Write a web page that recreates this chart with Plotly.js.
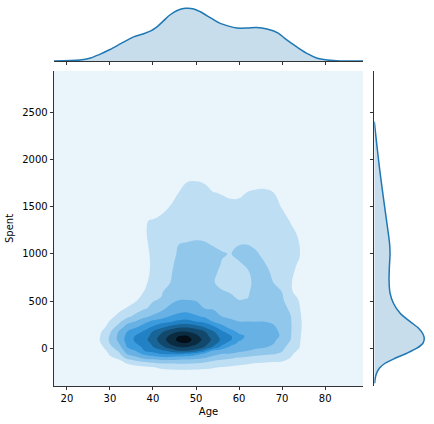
<!DOCTYPE html>
<html><head><meta charset="utf-8">
<script src="https://cdn.plot.ly/plotly-3.0.1.min.js"></script>
<style>html,body{margin:0;padding:0;background:#fff;}#chart{width:434px;height:424px;}</style>
</head><body><div id="chart"></div>
<script>
// Joint density grid (contour level units, 1..9 = bands)
const gridAge = [17, 22, 26, 28, 30, 32, 34, 36, 38, 40, 42, 44, 46, 48, 50, 52, 54, 56, 58, 60, 62, 64, 66, 68, 70, 72, 74, 77, 80, 88.8];
const gridSpent = [-400, -250, -200, -150, -100, -60, -25, 10, 50, 90, 130, 175, 225, 280, 340, 420, 520, 600, 700, 800, 900, 1000, 1100, 1200, 1350, 1500, 1650, 1800, 1950, 2940];
// one array per age column (bottom -> top in Spent)
const densityByAge = [
 [0,0,0,0,0,0,0,0,0,0,0,0,0,0,0,0,0,0,0,0,0,0,0,0,0,0,0,0,0,0],
 [0,0,0,0,0,0,0,0,0,0,0,0,0,0,0,0,0,0,0,0,0,0,0,0,0,0,0,0,0,0],
 [0,0,0,0,0,0,0.1,0.25,0.35,0.39,0.38,0.3,0.1,0,0,0,0,0,0,0,0,0,0,0,0,0,0,0,0,0],
 [0,0,0,0,0,0.1,0.43,0.76,1.04,1.14,1.09,0.98,0.51,0,0,0,0,0,0,0,0,0,0,0,0,0,0,0,0,0],
 [0,0,0,0.35,0.83,1.17,1.44,1.72,2.02,2.16,2.08,1.87,1.52,1.14,0.62,0,0,0,0,0,0,0,0,0,0,0,0,0,0,0],
 [0,0,0.18,0.65,1.19,1.71,2.14,2.51,2.93,3.2,3.19,3.03,2.35,1.75,1.3,0.62,0,0,0,0,0,0,0,0,0,0,0,0,0,0],
 [0,0.11,0.58,1.15,2.37,3.07,3.54,4.0,4.23,4.41,4.27,4.02,3.45,2.64,1.76,1.14,0.22,0,0,0,0,0,0,0,0,0,0,0,0,0],
 [0,0.24,0.71,1.55,2.79,3.51,4.07,4.49,4.96,5.2,5.09,4.6,3.87,3.1,2.23,1.56,0.82,0.07,0,0,0,0,0,0,0,0,0,0,0,0],
 [0,0.36,0.83,1.91,3.28,4.23,5.03,5.24,5.47,5.71,5.51,5.15,4.55,3.7,2.7,1.92,1.44,1.06,0.57,0.05,0,0.4,0.75,0.91,0.93,0,0,0,0,0],
 [0,0.51,0.98,2.09,3.49,4.67,5.38,5.93,6.23,6.5,6.34,6.06,5.13,4.29,3.19,2.2,1.92,1.84,1.73,1.63,1.53,1.43,1.33,1.23,1.08,0.29,0,0,0,0],
 [0,0.64,1.22,2.24,3.77,5.07,5.84,6.7,7.21,7.52,7.31,6.84,5.76,4.71,3.41,2.82,2.05,1.92,1.82,1.71,1.61,1.5,1.4,1.3,1.14,0.83,0.2,0,0,0],
 [0,0.69,1.29,2.24,3.77,5.17,6.38,7.44,8.12,8.47,8.18,7.55,6.34,4.95,4.02,3.23,2.68,2.36,1.98,1.86,1.74,1.62,1.5,1.38,1.2,1.02,0.5,0,0,0],
 [0,0.73,1.35,2.27,3.55,5.14,7.05,7.91,8.8,9.26,8.99,7.97,6.83,5.27,4.33,3.5,2.93,2.8,2.64,2.48,2.32,2.16,2.0,1.82,1.55,1.28,1.01,0.3,0,0],
 [0,0.74,1.36,2.25,3.51,4.91,7.08,7.92,8.89,9.38,9.04,7.98,6.88,5.37,4.41,3.58,2.95,2.83,2.67,2.51,2.35,2.19,2.04,1.88,1.64,1.41,1.17,0.94,0.2,0],
 [0,0.71,1.31,2.17,3.33,4.4,6.63,7.54,8.17,8.59,8.25,7.63,6.52,5.05,4.11,3.35,2.91,2.79,2.65,2.5,2.36,2.21,2.07,1.91,1.67,1.43,1.19,0.95,0.2,0],
 [0,0.66,1.22,2.0,3.09,3.78,5.38,6.93,7.35,7.68,7.42,7.05,5.93,4.78,3.8,3.0,2.86,2.74,2.6,2.47,2.33,2.19,2.05,1.89,1.64,1.4,1.15,0.9,0.1,0],
 [0,0.61,1.11,1.73,2.62,3.36,3.96,5.74,6.47,6.75,6.52,6.12,5.23,3.99,3.36,2.94,2.79,2.4,2.05,2.27,2.26,2.12,1.97,1.8,1.54,1.28,1.02,0.5,0,0],
 [0,0.51,0.98,1.6,2.33,3.0,3.55,4.6,5.37,5.78,5.59,5.2,4.3,3.57,2.99,2.71,2.35,2.06,1.78,1.69,1.97,2.05,1.87,1.71,1.47,1.23,0.95,0.3,0,0],
 [0,0.41,0.88,1.47,2.17,2.96,3.35,3.73,4.47,5.13,5.13,4.43,3.68,3.18,2.85,2.56,2.19,1.94,1.72,1.6,1.82,1.97,1.9,1.73,1.48,1.22,0.82,0.2,0,0],
 [0,0.31,0.78,1.33,1.97,2.74,3.17,3.44,3.75,4.12,4.23,3.78,3.42,3.02,2.74,2.37,1.96,1.77,1.53,1.7,1.94,2.18,1.98,1.8,1.52,1.24,0.83,0.2,0,0],
 [0,0.21,0.68,1.2,1.84,2.45,3.02,3.24,3.49,3.74,3.86,3.61,3.32,3.01,2.76,2.44,2.03,1.81,1.65,1.91,2.15,2.22,1.99,1.81,1.55,1.29,1.03,0.4,0,0],
 [0,0.11,0.58,1.07,1.71,2.26,2.84,3.12,3.3,3.49,3.67,3.47,3.25,3.0,2.92,2.82,2.69,2.58,2.45,2.32,2.18,2.05,1.91,1.75,1.52,1.28,1.05,0.81,0.1,0],
 [0,0.06,0.53,1.0,1.64,2.16,2.69,3.05,3.18,3.3,3.43,3.3,3.16,3.0,2.9,2.77,2.61,2.49,2.33,2.17,2.01,1.88,1.75,1.62,1.43,1.24,1.05,0.85,0.1,0],
 [0,0.01,0.48,0.95,1.57,2.06,2.42,2.79,3.03,3.1,3.17,3.13,3.05,2.95,2.81,2.63,2.4,2.21,1.99,1.89,1.78,1.68,1.57,1.47,1.31,1.16,1.0,0.3,0,0],
 [0,0,0.43,0.9,1.42,1.83,2.08,2.23,2.4,2.8,2.92,2.9,2.85,2.75,2.48,2.33,2.13,1.99,1.88,1.77,1.66,1.55,1.44,1.33,1.16,0.97,0.4,0,0,0],
 [0,0,0.03,0.5,0.99,1.21,1.41,1.61,1.84,2.01,2.04,2.07,2.09,2.06,2.02,1.82,1.36,1.05,1.04,1.13,1.2,1.27,1.24,1.13,0.97,0.7,0,0,0,0],
 [0,0,0,0,0.13,0.5,0.83,1.02,1.06,1.1,1.14,1.18,1.23,1.22,1.16,1.07,0.94,0.84,0.75,0.79,0.93,1.06,1.0,0.95,0.5,0,0,0,0,0],
 [0,0,0,0,0,0,0,0,0,0,0,0,0,0,0,0,0,0,0,0,0,0,0,0,0,0,0,0,0,0],
 [0,0,0,0,0,0,0,0,0,0,0,0,0,0,0,0,0,0,0,0,0,0,0,0,0,0,0,0,0,0],
 [0,0,0,0,0,0,0,0,0,0,0,0,0,0,0,0,0,0,0,0,0,0,0,0,0,0,0,0,0,0]
];
// Marginal densities
const ageKdeX = [17, 23, 25.5, 27.5, 30, 32.5, 35.5, 38, 39.5, 41, 42.5, 44, 45.5, 47.5, 49.5, 51, 53.5, 55.5, 58, 59.5, 62, 64, 66.5, 69, 71, 73.5, 76, 78, 80.5, 83.5, 88.8];
const ageKdeY = [0, .0005, .0015, .0032, .0057, .0086, .0120, .0137, .0150, .0171, .0201, .0230, .0250, .0262, .0259, .0245, .0213, .0188, .0171, .0164, .0164, .0166, .0159, .0140, .0106, .0069, .0035, .0015, .0005, 0, 0];
const spentKdeX = [-371, -283, -212, -159, -106, -53, 0, 53, 106, 151, 212, 282, 371, 477, 583, 724, 864, 1006, 1129, 1288, 1466, 1677, 1924, 2172, 2400];
const spentKdeY = [0.000007, 0.000035, 0.000106, 0.000226, 0.000437, 0.000684, 0.000895, 0.001022, 0.00105, 0.001022, 0.000931, 0.000754, 0.000543, 0.000402, 0.000331, 0.00031, 0.000317, 0.000331, 0.000317, 0.000275, 0.000226, 0.000169, 0.000106, 0.000049, 0];
const ageTicks = [20, 30, 40, 50, 60, 70, 80];
const spentTicks = [0, 500, 1000, 1500, 2000, 2500];
const bandColors = ['rgb(233,244,251)','rgb(190,222,244)','rgb(146,199,236)','rgb(103,177,229)','rgb(59,155,221)','rgb(34,129,196)','rgb(26,101,152)','rgb(19,72,109)','rgb(11,43,65)','rgb(4,14,22)'];

const colorscale = bandColors.map((c, i) => [i / (bandColors.length - 1), c]);
const C0 = '#1f77b4';
const tickStyle = {ticks:'outside', ticklen:3.5, tickwidth:0.8, tickcolor:'#000', showline:true, linecolor:'#000', linewidth:0.8, showgrid:false, zeroline:false};

const traces = [
 {type:'contour', x:gridAge, y:gridSpent, z:densityByAge, transpose:true, xaxis:'x', yaxis:'y',
  autocontour:false, contours:{start:1, end:9, size:1, coloring:'fill', showlines:false},
  line:{width:0, smoothing:1.1}, colorscale:colorscale, showscale:false, hoverinfo:'skip'},
 {type:'scatter', mode:'lines', x:ageKdeX, y:ageKdeY, xaxis:'x2', yaxis:'y2',
  line:{color:C0, width:1.5, shape:'spline', smoothing:0.8}, fill:'tozeroy', fillcolor:'rgba(31,119,180,0.25)', hoverinfo:'skip'},
 {type:'scatter', mode:'lines', x:spentKdeY, y:spentKdeX, xaxis:'x3', yaxis:'y3',
  line:{color:C0, width:1.5, shape:'spline', smoothing:0.8}, fill:'tozerox', fillcolor:'rgba(31,119,180,0.25)', hoverinfo:'skip'}
];

const mainX = [0.12442, 0.83641], mainY = [0.08962, 0.83255];
const layout = {
 width:434, height:424, margin:{l:0, r:0, t:0, b:0},
 paper_bgcolor:'#ffffff', plot_bgcolor:'#ffffff', showlegend:false,
 font:{family:'DejaVu Sans', size:10, color:'#000'},
 xaxis:Object.assign({domain:mainX, range:[17, 88.8], anchor:'y', tickvals:ageTicks,
   title:{text:'Age', font:{size:10}, standoff:4}}, tickStyle),
 yaxis:Object.assign({domain:mainY, range:[-400, 2937], anchor:'x', tickvals:spentTicks,
   title:{text:'Spent', font:{size:10}, standoff:6}}, tickStyle),
 xaxis2:Object.assign({domain:mainX, range:[17, 88.8], anchor:'y2', tickvals:ageTicks, showticklabels:false}, tickStyle),
 yaxis2:{domain:[0.85613, 0.98467], range:[0, 0.0271], anchor:'x2', visible:false},
 xaxis3:{domain:[0.86244, 0.98756], range:[0, 0.001141], anchor:'y3', visible:false},
 yaxis3:Object.assign({domain:mainY, range:[-400, 2937], anchor:'x3', tickvals:spentTicks, showticklabels:false}, tickStyle)
};
Plotly.newPlot('chart', traces, layout, {staticPlot:true, displayModeBar:false});
</script></body></html>
